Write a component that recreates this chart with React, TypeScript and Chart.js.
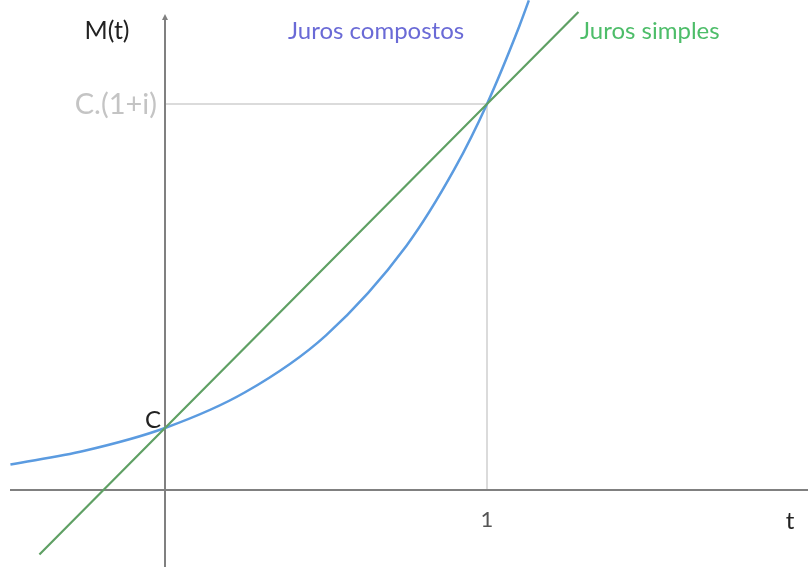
import React, { useEffect, useRef } from "react";
import { Chart, registerables } from "chart.js";

Chart.register(...registerables);

// Values (t, M(t)) with C = 1
const compoundT = [-0.48, -0.25, 0, 0.25, 0.5, 0.75, 0.9, 1, 1.1, 1.13];
const compoundM = [0.41, 0.633, 1, 1.58, 2.495, 3.94, 5.186, 6.226, 7.476, 7.897];
const simpleT = [-0.39, 0, 1, 1.284];
const simpleM = [-1.04, 1, 6.226, 7.71];
const tickT = [1];
const tickLabels = ["1"];
const levelC = 1;
const levelC1i = 6.226;
const seriesNames = ["Juros compostos", "Juros simples"];

const FONT = "Lato, 'Open Sans', sans-serif";

export default function App() {
  const ref = useRef<HTMLCanvasElement>(null);
  useEffect(() => {
    const ctx = ref.current!.getContext("2d")!;
    const annot = {
      id: "annot",
      beforeDatasetsDraw(chart: any) {
        const c = chart.ctx;
        const xs = chart.scales.x;
        const ys = chart.scales.y;
        const x0 = xs.getPixelForValue(0);
        const y0 = ys.getPixelForValue(0);
        const x1 = xs.getPixelForValue(tickT[0]);
        const yTop = ys.getPixelForValue(levelC1i);
        c.save();
        // reference lines
        c.strokeStyle = "#d0d0d0";
        c.lineWidth = 1.5;
        c.beginPath();
        c.moveTo(x0, yTop);
        c.lineTo(x1, yTop);
        c.moveTo(x1, yTop);
        c.lineTo(x1, y0);
        c.stroke();
        // axes
        c.strokeStyle = "#808080";
        c.lineWidth = 2;
        c.beginPath();
        c.moveTo(10, y0);
        c.lineTo(808, y0);
        c.moveTo(x0, 567);
        c.lineTo(x0, 17);
        c.stroke();
        c.fillStyle = "#808080";
        c.beginPath();
        c.moveTo(x0 - 3, 20);
        c.lineTo(x0 + 3, 20);
        c.lineTo(x0, 14);
        c.closePath();
        c.fill();
        c.restore();
      },
      afterDatasetsDraw(chart: any) {
        const c = chart.ctx;
        const xs = chart.scales.x;
        const ys = chart.scales.y;
        const x0 = xs.getPixelForValue(0);
        const y0 = ys.getPixelForValue(0);
        c.save();
        c.textBaseline = "middle";
        c.font = `25px ${FONT}`;
        c.fillStyle = "#222";
        c.textAlign = "center";
        c.fillText("M(t)", 107, 31);
        c.font = `24px ${FONT}`;
        c.fillText("C", x0 - 12, ys.getPixelForValue(levelC) - 8);
        c.fillText("t", 790, 521);
        c.font = `22px ${FONT}`;
        c.fillStyle = "#555";
        tickT.forEach((t, i) => c.fillText(tickLabels[i], xs.getPixelForValue(t), y0 + 30));
        c.font = `29px ${FONT}`;
        c.fillStyle = "#c4c4c4";
        c.textAlign = "right";
        c.fillText("C.(1+i)", x0 - 8, ys.getPixelForValue(levelC1i) + 1);
        c.font = `24px ${FONT}`;
        c.textAlign = "left";
        c.fillStyle = "#6a6ad6";
        c.fillText(seriesNames[0], 288, 31);
        c.fillStyle = "#4dbd69";
        c.fillText(seriesNames[1], 580, 31);
        c.restore();
      },
    };
    const chart = new Chart(ctx, {
      type: "scatter",
      data: {
        datasets: [
          {
            label: seriesNames[1],
            data: simpleT.map((t, i) => ({ x: t, y: simpleM[i] })),
            showLine: true,
            borderColor: "#5fa064",
            borderWidth: 2.2,
            pointRadius: 0,
          },
          {
            label: seriesNames[0],
            data: compoundT.map((t, i) => ({ x: t, y: compoundM[i] })),
            showLine: true,
            borderColor: "#5b9be0",
            borderWidth: 2.5,
            pointRadius: 0,
            cubicInterpolationMode: "monotone",
          },
        ],
      },
      options: {
        animation: false,
        responsive: false,
        layout: { padding: 0 },
        plugins: { legend: { display: false }, tooltip: { enabled: false } },
        scales: {
          x: { type: "linear", min: -165 / 322, max: 646 / 322, display: false },
          y: { type: "linear", min: -77 / 62, max: 490 / 62, display: false },
        },
      },
      plugins: [annot],
    });
    return () => chart.destroy();
  }, []);
  return (
    <div style={{ position: "fixed", left: 0, top: 0, width: 811, height: 567, background: "#fff" }}>
      <canvas ref={ref} width={811} height={567} />
    </div>
  );
}
